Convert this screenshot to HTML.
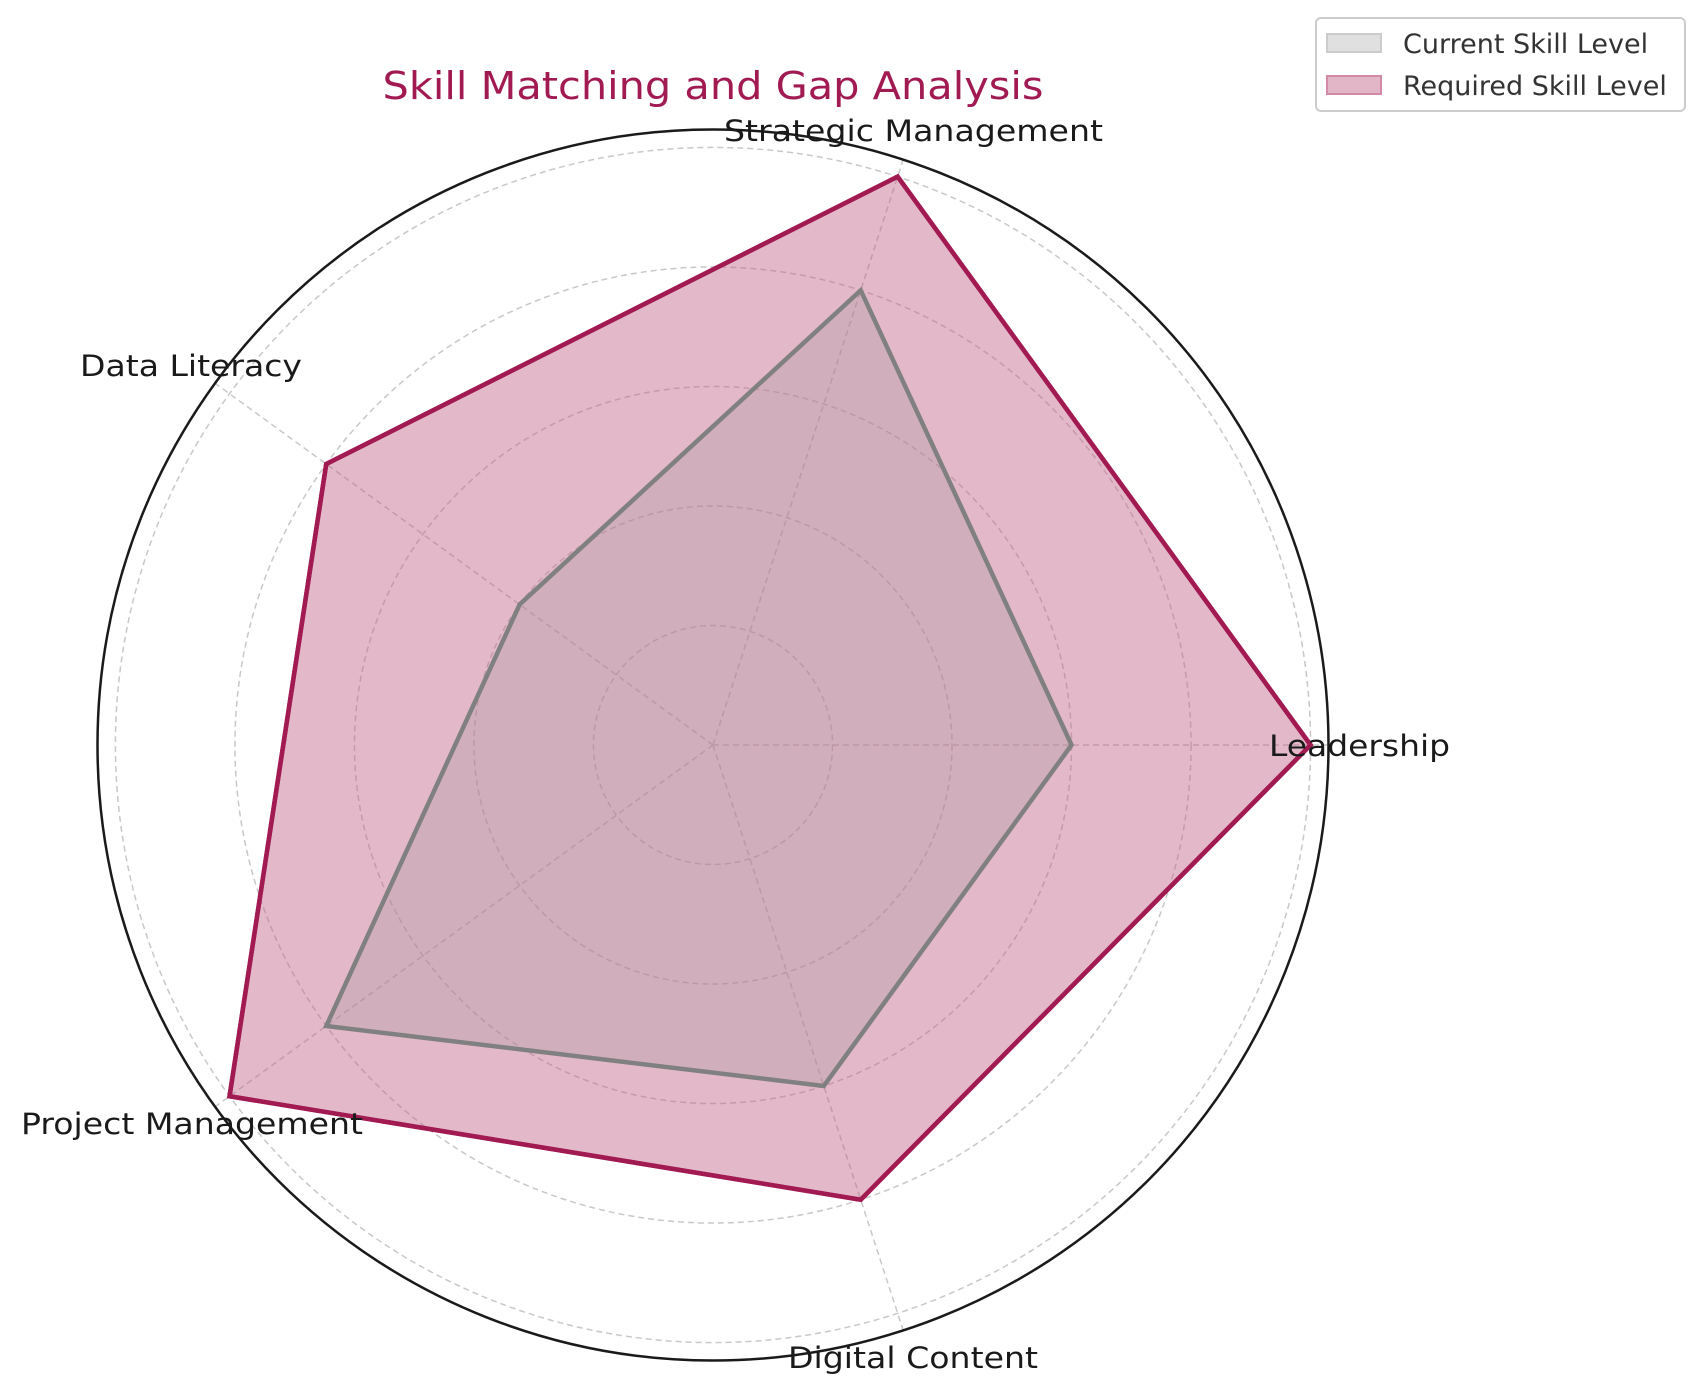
<!DOCTYPE html>
<html><head><meta charset="utf-8"><style>
html,body{margin:0;padding:0;background:#fff;}
svg{display:block;font-family:"DejaVu Sans","Liberation Sans",sans-serif;}
</style></head><body>
<svg id="chart" width="1705" height="1395" viewBox="0 0 1705 1395">
<text x="713" y="99" text-anchor="middle" font-size="38" fill="#A21A52" textLength="661" lengthAdjust="spacingAndGlyphs">Skill Matching and Gap Analysis</text>
<g id="grid"></g>
<g id="series"></g>
<g id="labels"></g>
<g>
<rect x="1316" y="18" width="369" height="93" rx="5" fill="#fff" stroke="#ccc" stroke-width="2"/>
<rect x="1327" y="34" width="54" height="18" fill="#e0e0e0" stroke="#cccccc" stroke-width="2"/>
<text x="1403" y="53" font-size="27" fill="#333">Current Skill Level</text>
<rect x="1327" y="76" width="54" height="18" fill="#e2b6c7" stroke="#d38aa6" stroke-width="2"/>
<text x="1403" y="95" font-size="27" fill="#333">Required Skill Level</text>
</g>
</svg>
<script>
const categories = ["Leadership","Strategic Management","Data Literacy","Project Management","Digital Content"];
const currentValues = [3,4,2,4,3];
const requiredValues = [5,5,4,5,4];
const gridTicks = [1,2,3,4,5];
const rMax = 5.15;

const NS="http://www.w3.org/2000/svg";
const cx=713, cy=745, R=615.5;
function rad(v){return v/rMax*R;}
function ang(i){return i*2*Math.PI/categories.length;}
function pt(i,v){const a=ang(i);return [cx+rad(v)*Math.cos(a), cy-rad(v)*Math.sin(a)];}
function mk(tag,attrs,parent){const e=document.createElementNS(NS,tag);for(const k in attrs)e.setAttribute(k,attrs[k]);parent.appendChild(e);return e;}

const grid=document.getElementById('grid');
gridTicks.forEach(t=>{
  const c=mk('circle',{cx:cx,cy:cy,r:rad(t),fill:'none',stroke:'#c8c8c8','stroke-width':1.5,'stroke-dasharray':'6,4'},grid);
  
  
});
categories.forEach((c,i)=>{
  const p=pt(i,rMax);
  const l=mk('line',{x1:cx,y1:cy,x2:p[0],y2:p[1],stroke:'#c8c8c8','stroke-width':1.5,'stroke-dasharray':'6,4'},grid);
  
  
});
const outer=mk('circle',{cx:cx,cy:cy,r:R,fill:'none',stroke:'#1a1a1a','stroke-width':2.5},grid);



const series=document.getElementById('series');
function poly(vals,fill,stroke,name){
  const pts=vals.map((v,i)=>pt(i,v).join(',')).join(' ');
  const f=mk('polygon',{points:pts,fill:fill,stroke:'none'},series);
  
  
  const s=mk('polygon',{points:pts,fill:'none',stroke:stroke,'stroke-width':4.5,'stroke-linejoin':'miter'},series);
  
  
}
poly(requiredValues,'rgba(194,100,136,0.45)','#A21A52','required');
poly(currentValues,'rgba(170,150,160,0.3)','#808080','current');
(function(){
  const pts=requiredValues.map((v,i)=>pt(i,v).join(',')).join(' ');
  const s=mk('polygon',{points:pts,fill:'none',stroke:'#A21A52','stroke-width':4.5},series);
  
  
})();

const labels=document.getElementById('labels');
const labelPos=[[1269,756,1450],[724,141,1103],[80,376,302],[21,1134,363],[788,1368,1038]];
categories.forEach((c,i)=>{
  const p=labelPos[i];
  const t=mk('text',{x:p[0],y:p[1],'font-size':29,fill:'#1a1a1a',textLength:p[2]-p[0],lengthAdjust:'spacingAndGlyphs'},labels);
  t.textContent=c;
  
  
});
</script>
</body></html>
